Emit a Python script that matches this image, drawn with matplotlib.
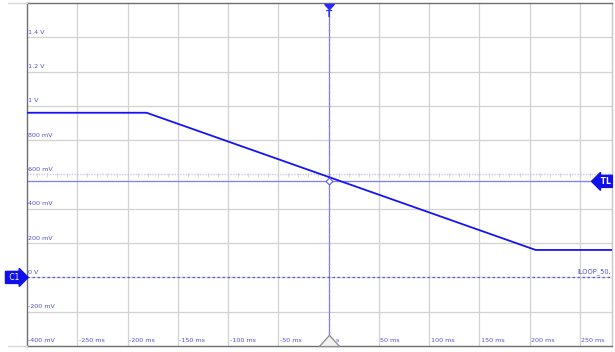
import matplotlib

matplotlib.use("Agg")
import matplotlib.pyplot as plt  # noqa: E402
from matplotlib.lines import Line2D  # noqa: E402
from matplotlib.transforms import blended_transform_factory, offset_copy  # noqa: E402

# waveform breakpoints (ms, V)
TIME_MS = [-300, -181, 206, 282]
VOLTS = [0.96, 0.96, 0.16, 0.16]

X_TICKS = [-250, -200, -150, -100, -50, 0, 50, 100, 150, 200, 250]
X_LABELS = ["-250 ms", "-200 ms", "-150 ms", "-100 ms", "-50 ms", "0 s",
            "50 ms", "100 ms", "150 ms", "200 ms", "250 ms"]
Y_TICKS = [1.4, 1.2, 1.0, 0.8, 0.6, 0.4, 0.2, 0.0, -0.2, -0.4]
Y_LABELS = ["1.4 V", "1.2 V", "1 V", "800 mV", "600 mV", "400 mV",
            "200 mV", "0 V", "-200 mV", "-400 mV"]

X_RANGE = (-300, 282)
Y_RANGE = (-0.4, 1.6)
TRIGGER_LEVEL = 0.56
CENTER_LEVEL = 0.6

TRACE = "#1414f5"
LABEL = "#5050d8"
GRID = "#d2d2d2"
FLAG = "#1010e8"

W, H = 615, 352
figure = plt.figure(figsize=(W / 100, H / 100), dpi=100)
axis = figure.add_axes([27 / W, 6 / H, 585 / W, 343 / H])
axis.set_xlim(*X_RANGE)
axis.set_ylim(*Y_RANGE)
axis.set_xticks([])
axis.set_yticks([])
for spine in axis.spines.values():
    spine.set_color("#6e6e6e")
    spine.set_linewidth(1.0)
axis.spines["right"].set_color("#c8c8c8")

# outer frame stubs left of the screen
figure.add_artist(Line2D([8 / W, 27 / W], [1 - 3 / H, 1 - 3 / H],
                         color="#d8d8d8", lw=1.0))
figure.add_artist(Line2D([8 / W, 27 / W], [6 / H, 6 / H],
                         color="#d8d8d8", lw=1.0))

# graticule
for x in X_TICKS:
    if x != 0:
        axis.axvline(x, color=GRID, lw=0.9, zorder=1)
for y in Y_TICKS:
    if y != CENTER_LEVEL and y != Y_RANGE[0]:
        axis.axhline(y, color=GRID, lw=0.9, zorder=1)

# horizontal center line with minor ticks
axis.axhline(CENTER_LEVEL, color="#c8c8ea", lw=1.0, ls=(0, (1, 1)), zorder=1)
minor_x = list(range(-290, 282, 10))
axis.plot(minor_x, [CENTER_LEVEL - 0.004] * len(minor_x), ls="none",
          marker="|", ms=2.2, mew=0.5, color="#c6c6d0", zorder=1)

# trigger position line with minor ticks
axis.axvline(0, color="#7a7aff", lw=0.9, zorder=2)
minor_y = [round(-0.4 + 0.04 * i, 2) for i in range(1, 50)]
axis.plot([0] * len(minor_y), minor_y, ls="none", marker="_",
          ms=2.0, mew=0.5, color="#a0a0ff", zorder=2)

# trigger level and ground reference
axis.axhline(TRIGGER_LEVEL, color="#7c7cff", lw=0.9, zorder=2)
axis.axhline(0.0, color="#5a5ad8", lw=0.9, ls=(0, (2, 2)), zorder=2)

# tick labels inside the screen
ytrans = blended_transform_factory(axis.transAxes, axis.transData)
ytrans = offset_copy(ytrans, fig=figure, x=1.5, y=2.5, units="dots")
for value, text in zip(Y_TICKS, Y_LABELS):
    axis.text(0, value, text, transform=ytrans, fontsize=4.6, color=LABEL,
              ha="left", va="bottom", zorder=3)
xtrans = blended_transform_factory(axis.transData, axis.transAxes)
xtrans = offset_copy(xtrans, fig=figure, x=1.5, y=3, units="dots")
for value, text in zip(X_TICKS, X_LABELS):
    axis.text(value, 0, text, transform=xtrans, fontsize=4.6, color=LABEL,
              ha="left", va="bottom", zorder=3)

# waveform
axis.plot(TIME_MS, VOLTS, color=TRACE, lw=1.3, zorder=4)
axis.plot([0], [TRIGGER_LEVEL], marker="D", ms=3.5, mfc="white",
          mec="#5a5aff", mew=0.8, zorder=5)

# trigger markers on top and bottom edges
down = [(-1, 0), (1, 0), (0, -1.1), (-1, 0)]
up = [(-1, 0), (1, 0), (0, 1.1), (-1, 0)]
top = offset_copy(axis.transData, fig=figure, x=0, y=-1, units="dots")
axis.plot([0], [Y_RANGE[1]], marker=down, ms=7.5, color="#2b2bff",
          transform=top, clip_on=False, zorder=6)
axis.text(0, 1.535, "T", color="#2b2bff", fontsize=6.5, fontweight="bold",
          ha="center", va="center", zorder=6)
axis.plot([0], [Y_RANGE[0]], marker=up, ms=16, mfc="#f2f2f2", mec="#8a8a8a",
          mew=0.9, clip_on=False, zorder=6)

# channel and trigger level flags
flag_trans = blended_transform_factory(axis.transAxes, axis.transData)
axis.text(-0.009, 0.0, " C1 ", transform=flag_trans, color="white",
          fontsize=5.5, ha="right", va="center", zorder=7, clip_on=False,
          bbox=dict(boxstyle="rarrow,pad=0.2", fc=FLAG, ec=FLAG))
axis.text(0.998, TRIGGER_LEVEL, " TL", transform=flag_trans, color="white",
          fontsize=5.5, fontweight="bold", ha="right", va="center", zorder=7,
          bbox=dict(boxstyle="larrow,pad=0.2", fc=FLAG, ec=FLAG))
axis.text(0.998, 0.012, "ILOOP_50.", transform=flag_trans, color=LABEL,
          fontsize=4.8, ha="right", va="bottom", zorder=7)

figure.savefig("out.png", dpi=100)
